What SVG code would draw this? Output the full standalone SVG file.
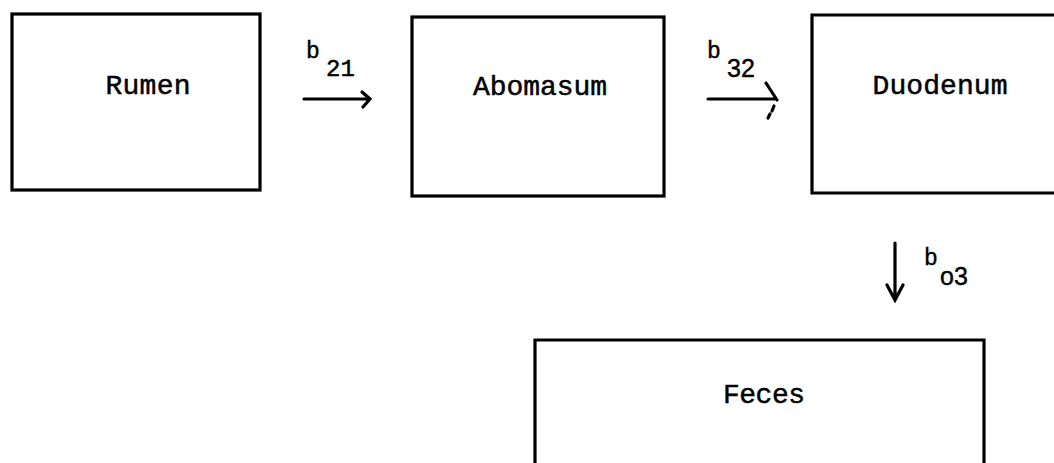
<svg xmlns="http://www.w3.org/2000/svg" width="1054" height="463" viewBox="0 0 1054 463">
<style>
.box{fill:none;stroke:#000;stroke-width:3.2}
.lbl{font-family:"Liberation Mono",monospace;font-size:28px;fill:#000;stroke:#000;stroke-width:0.5;text-anchor:middle}
.b{font-family:"Liberation Mono",monospace;font-size:23px;fill:#000;stroke:#000;stroke-width:0.4}
.sub{font-family:"Liberation Sans",sans-serif;font-size:25px;fill:#000;stroke:#000;stroke-width:0.4}
.subm{font-family:"Liberation Mono",monospace;font-size:24px;fill:#000;stroke:#000;stroke-width:0.5}
.ln{fill:none;stroke:#000;stroke-width:3.2;stroke-linecap:round}
</style>
<rect width="1054" height="463" fill="#fff"/>
<g id="rumen">
<rect class="box" x="12" y="14" width="248" height="176"/>
<text class="lbl" x="148" y="94" textLength="85">Rumen</text>
</g>
<g id="abomasum">
<rect class="box" x="412" y="17" width="252" height="179"/>
<text class="lbl" x="540" y="95" textLength="134">Abomasum</text>
</g>
<g id="duodenum">
<path class="box" d="M1070,15 L812,15 L812,193 L1070,193"/>
<text class="lbl" x="940" y="94" textLength="135">Duodenum</text>
</g>
<g id="feces">
<path class="box" d="M535,480 L535,340 L984,340 L984,480"/>
<text class="lbl" x="764" y="403" textLength="82">Feces</text>
</g>
<g id="connectors">
<g id="b21">
<path class="ln" d="M304,99 L369,99 M362,92 L370,99 L363,107"/>
<text class="b" x="306" y="58">b</text>
<text class="subm" x="326" y="76">21</text>
</g>
<g id="b32">
<path class="ln" d="M708,99 L775,99 M766,83 L777,100"/>
<path class="ln" d="M774,106 L772,111 M770,114 L768,118" stroke-width="2.5"/>
<text class="b" x="707" y="58">b</text>
<text class="sub" x="727" y="77">32</text>
</g>
<g id="b03">
<path class="ln" d="M895,243 L895,299 M887,285 L895,300 L903,285"/>
<text class="b" x="924" y="265">b</text>
<text class="sub" x="940" y="285">o3</text>
</g>
</g>
</svg>
